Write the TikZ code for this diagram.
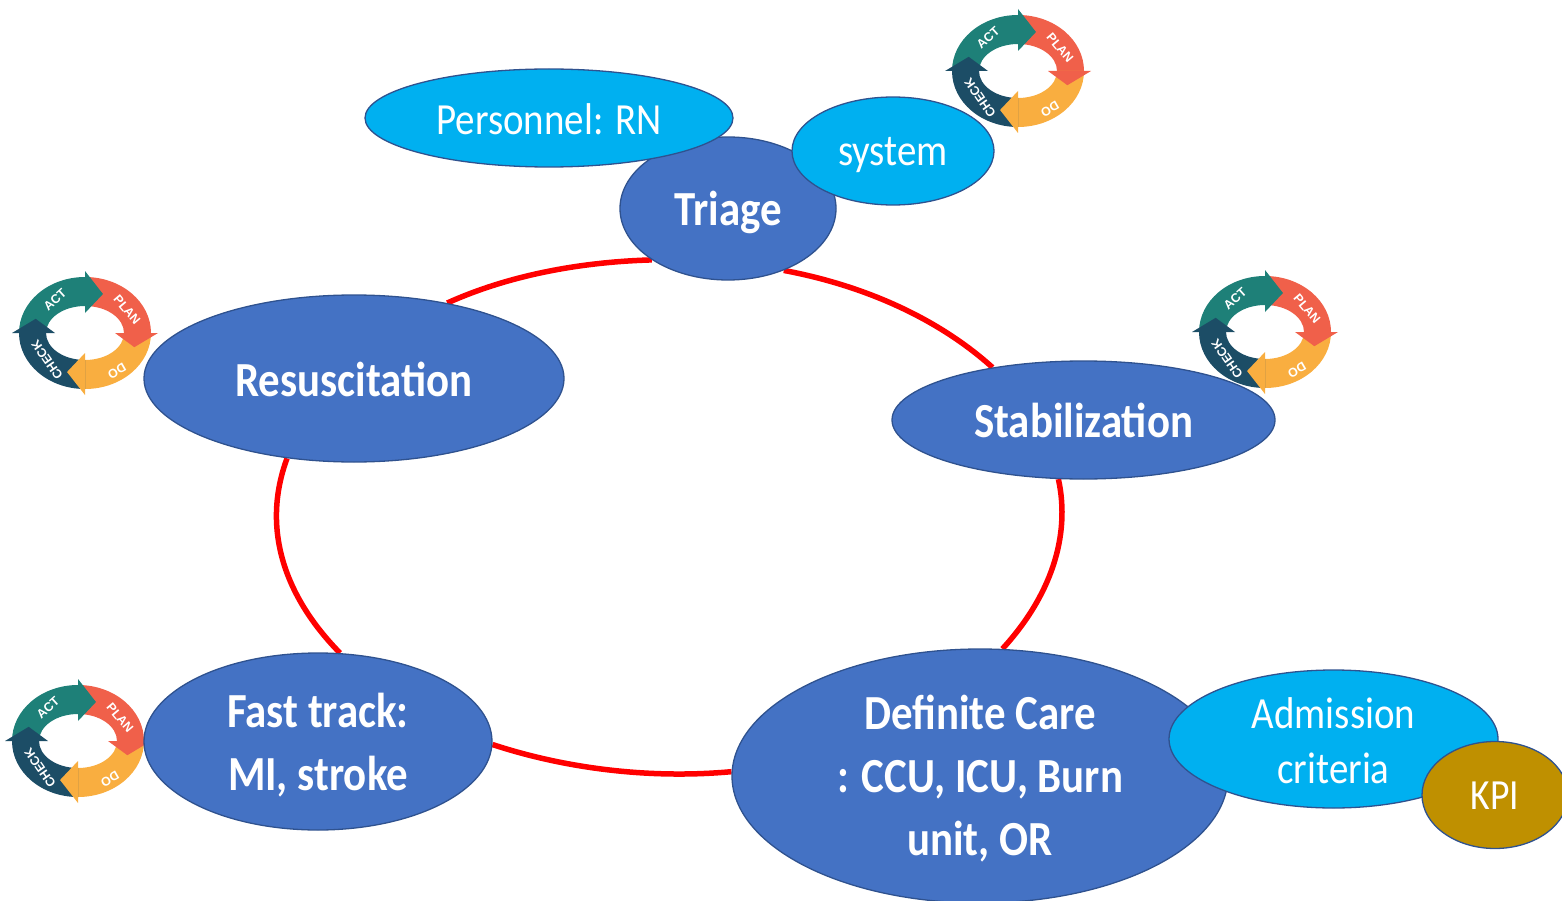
\documentclass[tikz,border=0pt]{standalone}
\usepackage{fontspec}
\setmainfont{Carlito}
\newfontfamily\mainbold[FakeStretch=0.875]{Carlito Bold}
\newfontfamily\mainreg[FakeStretch=0.875]{Carlito}
\newfontfamily\iconfont{Liberation Sans}
\usetikzlibrary{shapes.geometric,backgrounds}
\definecolor{nodeblue}{HTML}{4472C4}
\definecolor{edgeblue}{HTML}{2F528F}
\definecolor{skyfill}{HTML}{00B0F0}
\definecolor{kpigold}{HTML}{BF9000}
\definecolor{pdcaact}{HTML}{1E8078}
\definecolor{pdcaplan}{HTML}{F0604A}
\definecolor{pdcado}{HTML}{F9AE40}
\definecolor{pdcacheck}{HTML}{1C4D66}
\tikzset{
  x=1pt,y=-1pt,
  bubble/.style={ellipse,draw=edgeblue,line width=1.3pt,inner sep=0pt,text=white,align=center},
  mainbub/.style={bubble,fill=nodeblue,font=\mainbold\fontsize{49}{63}\selectfont},
  subbub/.style={bubble,fill=skyfill,font=\mainreg\fontsize{44.5}{55}\selectfont},
  kpibub/.style={bubble,fill=kpigold,font=\mainreg\fontsize{43}{48}\selectfont},
  ring/.style={red,line width=5.5pt},
  icontext/.style={text=white,inner sep=0pt,font=\iconfont\bfseries\fontsize{12.5}{13}\selectfont},
}
\newcommand{\down}[2]{\raisebox{-#1pt}[\height][\depth]{#2}}
\newcommand{\pdcaband}[3]{%
  \fill[#1] (#2:66 and 56) arc[start angle=#2,end angle=#3,x radius=66,y radius=56]
    -- (#3:39 and 27) arc[start angle=#3,end angle=#2,x radius=39,y radius=27] -- cycle;}
\newcommand{\pdcahead}[2]{%
  \fill[#1] (#2:73 and 62) -- (#2-20:52.5 and 41.5) -- (#2:30 and 20) -- cycle;}
\newcommand{\pdcaicon}[2]{%
  \begin{scope}[shift={(#1,#2)}]
    \begin{scope}[y=1pt]
    \pdcaband{pdcaact}{180}{90}
    \pdcaband{pdcaplan}{90}{0}
    \pdcaband{pdcado}{0}{-90}
    \pdcaband{pdcacheck}{-90}{-180}
    \pdcahead{pdcaplan}{0}
    \pdcahead{pdcado}{-90}
    \pdcahead{pdcacheck}{180}
    \pdcahead{pdcaact}{90}
    \node[icontext,rotate=42] at (-30,33) {ACT};
    \node[icontext,rotate=-50] at (42,23) {PLAN};
    \node[icontext,rotate=-150] at (32,-38) {DO};
    \node[icontext,rotate=-235] at (-38,-27) {CHECK};
    \end{scope}
  \end{scope}}
\begin{document}
\begin{tikzpicture}
\useasboundingbox (0,0) rectangle (1562,901);
\pdcaicon{1018}{71}
\pdcaicon{1265}{332}
\pdcaicon{85}{333}
\pdcaicon{78}{741}
\node[mainbub,minimum width=216pt,minimum height=143pt] (triage) at (728,208.5) {\down{4}{Triage}};
\node[subbub,minimum width=368pt,minimum height=98pt] (personnel) at (549,118) {\down{1}{Personnel: RN}};
\node[subbub,minimum width=202pt,minimum height=108pt] (system) at (893,151) {\down{4}{system}};
\node[mainbub,minimum width=420pt,minimum height=167pt] (resus) at (354,378.5) {\down{1}{Resuscitation}};
\node[mainbub,minimum width=383pt,minimum height=118pt] (stab) at (1083.5,420) {Stabilization};
\node[mainbub,minimum width=348pt,minimum height=177pt] (fast) at (318,741.5) {\down{4}{Fast track:}\\\down{4}{MI, stroke}};
\node[mainbub,minimum width=496pt,minimum height=254pt] (definite) at (980,776) {\down{3}{Definite Care}\\\down{3}{: CCU, ICU, Burn}\\\down{3}{unit, OR}};
\node[subbub,minimum width=329pt,minimum height=138pt] (admission) at (1333.5,739) {\down{2}{Admission}\\\down{2}{criteria}};
\node[kpibub,minimum width=146pt,minimum height=107pt] (kpi) at (1495,795) {\down{1}{KPI}};
\begin{scope}[on background layer]
\draw[ring] (triage.-48) .. controls (867,286) and (940,320) .. (stab.150);
\draw[ring] (stab.-113) .. controls (1071,537) and (1050,597) .. (definite.80);
\draw[ring] (definite.179) .. controls (651,779) and (567,769) .. (fast.-1);
\draw[ring] (fast.76) .. controls (283,595) and (261.6,527) .. (resus.-130);
\draw[ring] (resus.39) .. controls (507,276) and (578,262) .. (triage.-146);
\end{scope}
\end{tikzpicture}
\end{document}
